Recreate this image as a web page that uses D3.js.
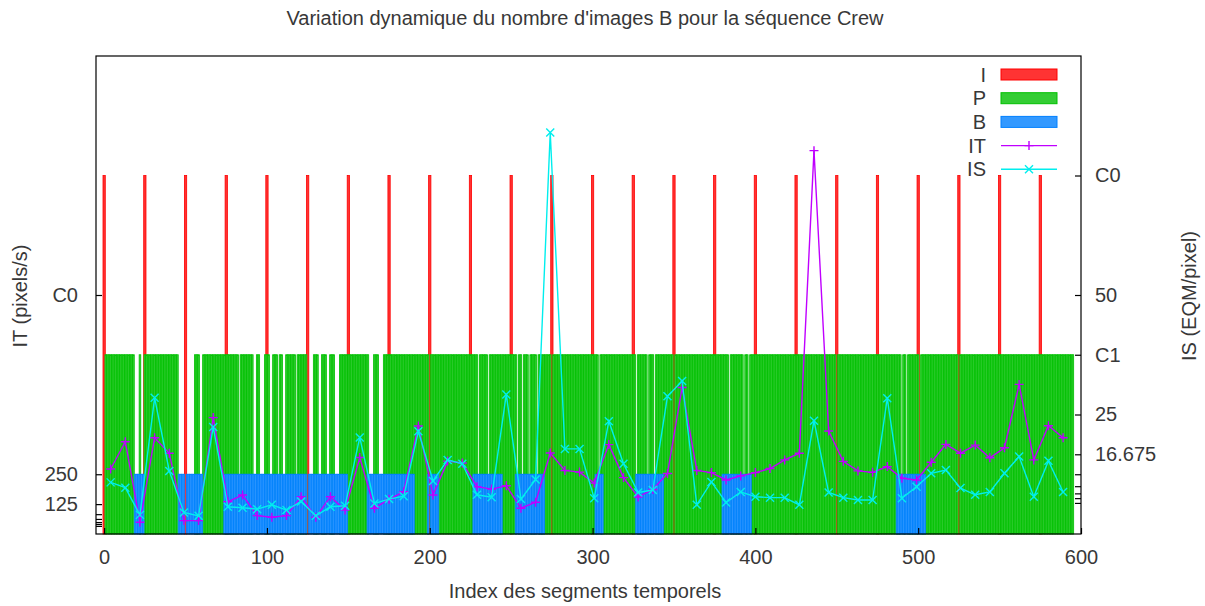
<!DOCTYPE html>
<html>
<head>
<meta charset="utf-8">
<script src="https://cdn.jsdelivr.net/npm/d3@7"></script>
<style>
  body { margin: 0; background: #fff; }
  svg text { font-family: "Liberation Sans", Arial, sans-serif; fill: #383838; }
</style>
</head>
<body>
<svg id="chart" width="1205" height="606"></svg>
<script>
// ---- Picture types per frame index ----
const frameCount = 596;
const iFrames = [0, 25, 50, 75, 100, 125, 150, 175, 200, 225, 250, 275, 300, 325, 350,
                 375, 400, 425, 450, 475, 500, 525, 550, 575];
// I pictures with no neighbouring P column covering their lower part
const iExposed = [0, 50, 125, 200, 275, 350, 450, 525];
// slots without a P column (B pictures)
const bFrames = [19, 20, 21, 23, 24, 46, 47, 48, 49, 51, 52, 53, 54, 55, 59, 60, 83,
                 92, 93, 96, 97, 98, 102, 103, 107, 110, 111, 118, 126, 127, 128, 132, 133,
                 137, 138, 142, 143, 144, 163, 164, 165, 169, 170, 171, 230, 236, 254, 257,
                 261, 266, 304, 327, 334, 338, 384, 393, 396, 490, 493, 501];
// extent of the B boxes (first frame, last frame)
const bSpans = [[19, 24], [46, 60], [74, 149], [162, 190], [199, 205], [227, 244],
                [253, 270], [302, 306], [327, 343], [380, 397], [487, 504]];
// bar heights on the right-hand scale
const iLevel = 75, pLevel = 37.5, bLevel = 12.5;

// ---- Per-segment measures ----
const segX = [4, 13, 22, 31, 40, 49, 58, 67, 76, 85, 94, 103, 112, 121, 130, 139, 148, 157,
              166, 175, 184, 193, 202, 211, 220, 229, 238, 247, 256, 265, 274, 283, 292, 301,
              310, 319, 328, 337, 346, 355, 364, 373, 382, 391, 400, 409, 418, 427, 436, 445,
              454, 463, 472, 481, 490, 499, 508, 517, 526, 535, 544, 553, 562, 571, 580, 589];
const itValues = [272, 386, 49, 403, 338, 56, 56, 487, 135, 163,
                  77, 70, 77, 156, 70, 156, 100, 320, 108, 145,
                  177, 452, 163, 305, 297, 198, 188, 202, 108, 133,
                  339, 266, 259, 213, 374, 236, 155, 186, 253, 613,
                  266, 257, 226, 243, 257, 274, 310, 338, 1604, 431,
                  304, 264, 258, 282, 233, 226, 300, 375, 338, 372,
                  319, 361, 626, 310, 453, 403];
const isValues = [10.8, 9.7, 4.0, 28.5, 13.2, 4.5, 3.8, 22.4, 5.7, 5.5,
                  5.2, 6.1, 5.0, 6.8, 3.8, 5.7, 5.9, 20.2, 6.4, 7.3,
                  7.9, 21.5, 11.1, 15.5, 14.7, 8.2, 7.7, 29.2, 7.3, 11.4,
                  84.0, 17.8, 17.8, 7.5, 23.6, 14.7, 8.7, 9.2, 28.8, 32.0,
                  6.1, 10.9, 6.6, 8.8, 7.8, 7.6, 7.6, 6.1, 23.7, 8.7,
                  7.6, 7.1, 7.1, 28.4, 7.5, 9.9, 12.7, 13.4, 9.6, 8.2,
                  8.8, 12.7, 16.2, 7.8, 15.3, 8.8];

// ---- Axis ticks ----
const xTickValues = [0, 100, 200, 300, 400, 500, 600];
const leftTickValues = [1000, 250, 125, 83, 63, 50, 42, 34];
const leftTickLabels = ["C0", "250", "125", "", "", "", "", ""];
const rightTickValues = [75, 50, 37.5, 25, 16.675, 12.5, 10, 8.5, 7.5, 6.5];
const rightTickLabels = ["C0", "50", "C1", "25", "16.675", "", "", "", "", ""];

const legendLabels = ["I", "P", "B", "IT", "IS"];

// ---- Layout ----
const svg = d3.select("#chart");
const plotL = 96, plotR = 1081, plotT = 56, plotB = 534;
const fontSize = 20;

const x = d3.scaleLinear().domain([-5, 600]).range([plotL, plotR]);
const yL = d3.scaleLinear().domain([0, 2000]).range([plotB, plotT]);
const yR = d3.scaleLinear().domain([0, 100]).range([plotB, plotT]);

const colors = {
  I: { stroke: "#ff0000", fill: "#ff3333" },
  P: { stroke: "#00c000", fill: "#33cd33" },
  B: { stroke: "#0080ff", fill: "#3399ff" },
  IT: "#c000ff",
  IS: "#00eeee"
};

// ---- Bars ----
const bars = svg.append("g");
const bSet = new Set(bFrames);
const exposedSet = new Set(iExposed);

bars.selectAll("rect.i").data(iFrames).join("rect")
  .attr("x", f => x(f - 0.7))
  .attr("width", f => x(f + 0.7) - x(f - 0.7))
  .attr("y", yR(iLevel))
  .attr("height", yR(0) - yR(iLevel))
  .attr("fill", colors.I.fill)
  .attr("stroke", colors.I.stroke)
  .attr("stroke-width", 0.8);

const pFrames = d3.range(frameCount).filter(f => !bSet.has(f) && !exposedSet.has(f));
bars.selectAll("rect.p").data(pFrames).join("rect")
  .attr("x", f => x(f - 0.5))
  .attr("width", f => x(f + 0.5) - x(f - 0.5))
  .attr("y", yR(pLevel))
  .attr("height", yR(0) - yR(pLevel))
  .attr("fill", colors.P.fill)
  .attr("stroke", colors.P.stroke)
  .attr("stroke-width", 0.8);

const bBoxes = bSpans.flatMap(([s, e]) => d3.range(s, e + 1)).filter(f => !exposedSet.has(f));
bars.selectAll("rect.b").data(bBoxes).join("rect")
  .attr("x", f => x(f - 0.5))
  .attr("width", f => x(f + 0.5) - x(f - 0.5))
  .attr("y", yR(bLevel))
  .attr("height", yR(0) - yR(bLevel))
  .attr("fill", colors.B.fill)
  .attr("stroke", colors.B.stroke)
  .attr("stroke-width", 0.8);

// ---- Lines with point markers ----
const plusPath = s => `M${-s},0H${s}M0,${-s}V${s}`;
const crossPath = s => `M${-s},${-s}L${s},${s}M${-s},${s}L${s},${-s}`;

function series(values, yScale, color, marker) {
  const pts = segX.map((sx, i) => [x(sx), yScale(values[i])]);
  const g = svg.append("g");
  g.append("path")
    .attr("d", d3.line()(pts))
    .attr("fill", "none")
    .attr("stroke", color)
    .attr("stroke-width", 1.4);
  g.selectAll("path.m").data(pts).join("path")
    .attr("transform", p => `translate(${p[0]},${p[1]})`)
    .attr("d", marker)
    .attr("stroke", color)
    .attr("stroke-width", 1.4)
    .attr("fill", "none");
}
series(itValues, yL, colors.IT, plusPath(4.5));
series(isValues, yR, colors.IS, crossPath(4));

// ---- Axes ----
const axisStyle = g => {
  g.select(".domain").remove();
  g.selectAll(".tick line").attr("stroke", "#000").attr("stroke-width", 1.2);
  g.selectAll("text").attr("font-size", fontSize).attr("fill", "#383838")
    .attr("font-family", "Liberation Sans, Arial, sans-serif");
};

svg.append("g")
  .attr("transform", `translate(0,${plotB})`)
  .call(d3.axisBottom(x).tickValues(xTickValues).tickSize(-6).tickPadding(16).tickFormat(d3.format("d")))
  .call(axisStyle);

svg.append("g")
  .attr("transform", `translate(${plotL},0)`)
  .call(d3.axisLeft(yL).tickValues(leftTickValues).tickSize(-6).tickPadding(18)
    .tickFormat((d, i) => leftTickLabels[i]))
  .call(axisStyle);

svg.append("g")
  .attr("transform", `translate(${plotR},0)`)
  .call(d3.axisRight(yR).tickValues(rightTickValues).tickSize(-6).tickPadding(14)
    .tickFormat((d, i) => rightTickLabels[i]))
  .call(axisStyle);

// plot frame
svg.append("rect")
  .attr("x", plotL).attr("y", plotT)
  .attr("width", plotR - plotL).attr("height", plotB - plotT)
  .attr("fill", "none").attr("stroke", "#000").attr("stroke-width", 1.2);

// ---- Titles ----
svg.append("text")
  .attr("x", 585).attr("y", 25).attr("text-anchor", "middle").attr("font-size", fontSize)
  .text("Variation dynamique du nombre d'images B pour la séquence Crew");
svg.append("text")
  .attr("x", 585).attr("y", 598).attr("text-anchor", "middle").attr("font-size", fontSize)
  .text("Index des segments temporels");
svg.append("text")
  .attr("transform", "translate(27,296) rotate(-90)").attr("text-anchor", "middle")
  .attr("font-size", fontSize)
  .text("IT (pixels/s)");
svg.append("text")
  .attr("transform", "translate(1196,296) rotate(-90)").attr("text-anchor", "middle")
  .attr("font-size", fontSize)
  .text("IS (EQM/pixel)");

// ---- Legend ----
const legend = svg.append("g");
const rowY = i => 74.5 + 23.7 * i;
const keyX0 = 1001, keyX1 = 1057;
legendLabels.forEach((lab, i) => {
  const cy = rowY(i);
  legend.append("text")
    .attr("x", 986).attr("y", cy + 7).attr("text-anchor", "end").attr("font-size", fontSize)
    .text(lab);
  const c = colors[lab];
  if (i < 3) {
    legend.append("rect")
      .attr("x", keyX0).attr("y", cy - 5.5)
      .attr("width", keyX1 - keyX0).attr("height", 11)
      .attr("fill", c.fill).attr("stroke", c.stroke).attr("stroke-width", 1);
  } else {
    legend.append("line")
      .attr("x1", keyX0).attr("x2", keyX1).attr("y1", cy).attr("y2", cy)
      .attr("stroke", c).attr("stroke-width", 1.4);
    legend.append("path")
      .attr("transform", `translate(${(keyX0 + keyX1) / 2},${cy})`)
      .attr("d", lab === "IT" ? plusPath(4.5) : crossPath(4))
      .attr("stroke", c).attr("stroke-width", 1.4).attr("fill", "none");
  }
});
</script>
</body>
</html>
